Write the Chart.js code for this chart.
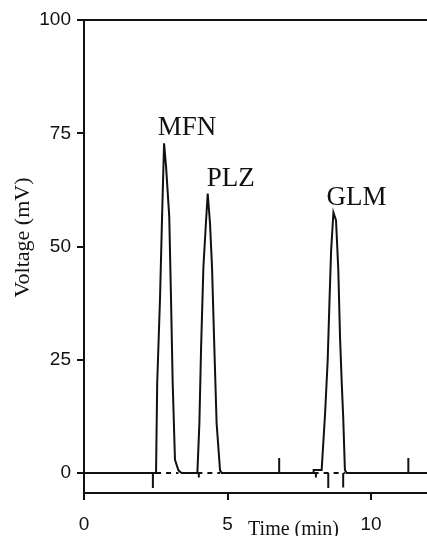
<!DOCTYPE html>
<html>
<head>
<meta charset="utf-8">
<script src="https://cdn.jsdelivr.net/npm/chart.js@4.4.1/dist/chart.umd.min.js"></script>
<style>
    html, body { margin: 0; padding: 0; background: #fff; }
    #wrap { width: 427px; height: 536px; }
</style>
</head>
<body>
<div id="wrap"><canvas id="chromChart"></canvas></div>
<script>
// Chromatogram trace (time in min, voltage in mV)
const traceTime = [0, 2.51, 2.55, 2.65, 2.72, 2.79, 2.86, 2.97, 3.03, 3.09, 3.17, 3.29, 3.40,
    3.95, 4.02, 4.08, 4.16, 4.24, 4.31, 4.39, 4.46, 4.54, 4.62, 4.74, 4.80,
    7.98, 8.00, 8.28, 8.40, 8.49, 8.55, 8.61, 8.69, 8.78, 8.86, 8.92, 8.98, 9.03, 9.09, 9.15, 11.95];
const traceVolt = [0, 0, 19.8, 38.9, 56.6, 72.8, 67.6, 56.6, 38.9, 19.8, 2.9, 0.6, 0,
    0, 11.0, 27.9, 45.5, 54.3, 61.7, 55.1, 45.5, 27.9, 11.0, 0.6, 0,
    0, 0.7, 0.7, 13.2, 24.9, 37.4, 49.2, 57.5, 55.8, 44.8, 30.0, 19.8, 12.4, 0.7, 0, 0];

// Peaks
const peakNames = ['MFN', 'PLZ', 'GLM'];
const peakTimes = [2.79, 4.31, 8.69];

// Dashed baseline under each peak
const dashStart = [2.51, 3.95, 8.00];
const dashEnd = [3.29, 4.74, 9.09];

// Small event marks on the baseline
const markTimes = [2.40, 4.00, 6.80, 8.08, 8.51, 9.03, 11.30];
const markHeights = [-3.3, -1.0, 3.3, -1.0, -3.3, -3.2, 3.3];

// Axis ticks
const xTicks = [0, 5, 10];
const yTicks = [0, 25, 50, 75, 100];

const ink = '#111';

function buildSegments(starts, ends, level) {
    const pts = [];
    for (let i = 0; i < starts.length; i++) {
        pts.push({ x: starts[i], y: level });
        pts.push({ x: ends[i], y: level });
        pts.push({ x: ends[i], y: null });
    }
    return pts;
}

function buildMarks() {
    const pts = [];
    markTimes.forEach((t, i) => {
        pts.push({ x: t, y: 0 });
        pts.push({ x: t, y: markHeights[i] });
        pts.push({ x: t, y: null });
    });
    return pts;
}

// Peak names, axis titles
const textPlugin = {
    id: 'chromText',
    afterDatasetsDraw(chart) {
        const c = chart.ctx;
        const xs = chart.scales.x;
        const ys = chart.scales.y;
        c.save();
        c.fillStyle = ink;

        c.font = '27px "Liberation Serif"';
        c.textAlign = 'center';
        c.textBaseline = 'middle';
        peakNames.forEach((name, i) => {
            const idx = traceTime.indexOf(peakTimes[i]);
            const px = xs.getPixelForValue(peakTimes[i]);
            const py = ys.getPixelForValue(traceVolt[idx]);
            c.fillText(name, px + 23, py - 15);
        });

        c.font = '20px "Liberation Serif"';
        c.textBaseline = 'alphabetic';
        c.fillText('Time (min)', xs.getPixelForValue(7.3), chart.height - 1);

        c.translate(23, ys.getPixelForValue(52));
        c.rotate(-Math.PI / 2);
        c.font = '22px "Liberation Serif"';
        c.textBaseline = 'middle';
        c.fillText('Voltage (mV)', 0, 0);
        c.restore();
    }
};

new Chart(document.getElementById('chromChart'), {
    type: 'line',
    data: {
        datasets: [
            {
                data: traceTime.map((t, i) => ({ x: t, y: traceVolt[i] })),
                borderColor: ink,
                borderWidth: 2,
                pointRadius: 0,
                tension: 0,
                fill: false
            },
            {
                data: buildSegments(dashStart, dashEnd, 0),
                borderColor: ink,
                borderWidth: 2,
                borderDash: [5, 5],
                pointRadius: 0,
                spanGaps: false
            },
            {
                data: buildMarks(),
                borderColor: ink,
                borderWidth: 2,
                pointRadius: 0,
                spanGaps: false
            }
        ]
    },
    options: {
        responsive: true,
        maintainAspectRatio: false,
        animation: false,
        layout: { padding: { top: 20, left: 0, right: 0, bottom: 0 } },
        plugins: {
            legend: { display: false },
            tooltip: { enabled: false }
        },
        scales: {
            x: {
                type: 'linear',
                min: 0,
                max: 11.95,
                afterBuildTicks: s => { s.ticks = xTicks.map(v => ({ value: v })); },
                afterFit: s => { s.height = 43; },
                grid: { drawOnChartArea: false, tickLength: 7, lineWidth: 2, color: ink },
                border: { display: true, color: ink, width: 2 },
                ticks: {
                    padding: 13,
                    maxRotation: 0,
                    color: ink,
                    font: { family: '"Liberation Sans"', size: 19 }
                }
            },
            y: {
                min: -4.4,
                max: 100,
                afterBuildTicks: s => { s.ticks = yTicks.map(v => ({ value: v })); },
                afterFit: s => { s.width = 84; },
                grid: {
                    color: c => (c.tick && c.tick.value === 100 ? ink : 'transparent'),
                    tickColor: ink,
                    tickLength: 7,
                    lineWidth: 2
                },
                border: { display: true, color: ink, width: 2 },
                ticks: {
                    padding: 6,
                    color: ink,
                    font: { family: '"Liberation Sans"', size: 19 }
                }
            }
        }
    },
    plugins: [textPlugin]
});
</script>
</body>
</html>
